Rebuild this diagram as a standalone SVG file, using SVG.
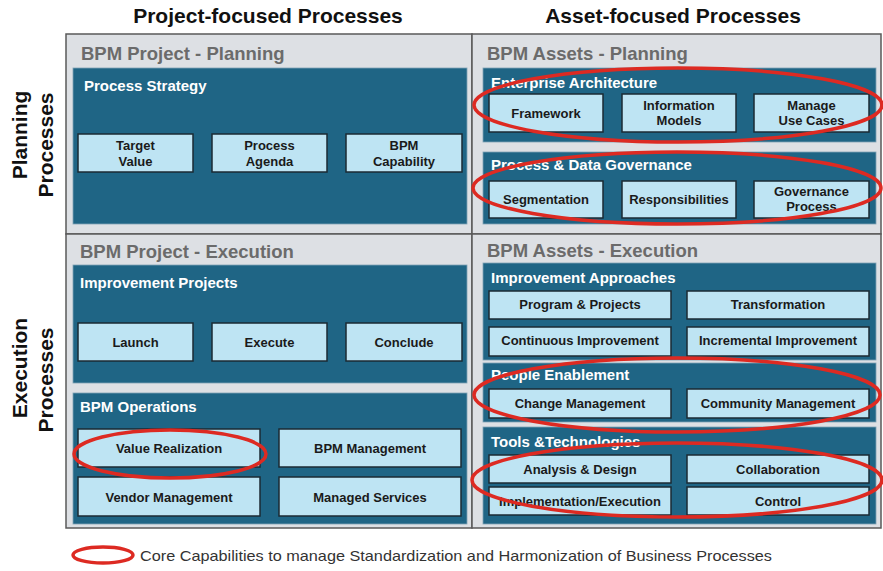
<svg xmlns="http://www.w3.org/2000/svg" width="883" height="571" viewBox="0 0 883 571">
<defs>
<style>
.quad{fill:#dde0e4;stroke:#595959;stroke-width:1.5}
.panel{fill:#1f6585;stroke:#7fa3b5;stroke-width:0.8}
.box{fill:#bee4f3;stroke:#1b2a33;stroke-width:1.5}
.hd{font-family:"Liberation Sans",Arial,sans-serif;font-weight:bold;font-size:21px;fill:#111;text-anchor:middle}
.qt{font-family:"Liberation Sans",Arial,sans-serif;font-weight:bold;font-size:18.5px;fill:#6b6b6b}
.pt{font-family:"Liberation Sans",Arial,sans-serif;font-weight:bold;font-size:15px;fill:#ffffff}
.bt{font-family:"Liberation Sans",Arial,sans-serif;font-weight:bold;font-size:13px;fill:#1a1a1a;text-anchor:middle}
.ring{fill:none;stroke:#dd2a22;stroke-width:3.5}
.lg{font-family:"Liberation Sans",Arial,sans-serif;font-size:15px;fill:#333}
</style>
</defs>
<rect width="883" height="571" fill="#ffffff"/>

<g id="headers">
<text class="hd" x="268" y="23">Project-focused  Processes</text>
<text class="hd" x="673" y="23">Asset-focused  Processes</text>
<text class="hd" transform="translate(27,135) rotate(-90)">Planning</text>
<text class="hd" transform="translate(53,145) rotate(-90)">Processes</text>
<text class="hd" transform="translate(27,368) rotate(-90)">Execution</text>
<text class="hd" transform="translate(53,380) rotate(-90)">Processes</text>
</g>

<g id="q-project-planning">
<rect class="quad" x="66" y="34" width="406" height="200"/>
<text class="qt" x="81" y="60">BPM Project - Planning</text>
<g id="process-strategy">
<rect class="panel" x="73" y="68" width="394" height="156"/>
<text class="pt" x="84" y="91">Process Strategy</text>
<g id="target-value"><rect class="box" x="78" y="134" width="115" height="38"/><text class="bt" x="135.5" y="150">Target</text><text class="bt" x="135.5" y="166">Value</text></g>
<g id="process-agenda"><rect class="box" x="212" y="134" width="115" height="38"/><text class="bt" x="269.5" y="150">Process</text><text class="bt" x="269.5" y="166">Agenda</text></g>
<g id="bpm-capability"><rect class="box" x="346" y="134" width="116" height="38"/><text class="bt" x="404" y="150">BPM</text><text class="bt" x="404" y="166">Capability</text></g>
</g>
</g>

<g id="q-assets-planning">
<rect class="quad" x="472" y="34" width="409" height="200"/>
<text class="qt" x="487" y="60">BPM Assets - Planning</text>
<g id="enterprise-architecture">
<rect class="panel" x="483" y="68" width="393" height="74"/>
<text class="pt" x="491" y="88">Enterprise Architecture</text>
<g id="framework"><rect class="box" x="489" y="94" width="114" height="38"/><text class="bt" x="546" y="118">Framework</text></g>
<g id="information-models"><rect class="box" x="622" y="94" width="114" height="38"/><text class="bt" x="679" y="110">Information</text><text class="bt" x="679" y="125">Models</text></g>
<g id="manage-use-cases"><rect class="box" x="754" y="94" width="115" height="38"/><text class="bt" x="811.5" y="110">Manage</text><text class="bt" x="811.5" y="125">Use Cases</text></g>
</g>
<g id="process-data-governance">
<rect class="panel" x="483" y="152" width="393" height="72"/>
<text class="pt" x="491" y="170">Process &amp; Data Governance</text>
<g id="segmentation"><rect class="box" x="489" y="181" width="114" height="37"/><text class="bt" x="546" y="204">Segmentation</text></g>
<g id="responsibilities"><rect class="box" x="622" y="181" width="114" height="37"/><text class="bt" x="679" y="204">Responsibilities</text></g>
<g id="governance-process"><rect class="box" x="754" y="181" width="115" height="37"/><text class="bt" x="811.5" y="196">Governance</text><text class="bt" x="811.5" y="211">Process</text></g>
</g>
</g>

<g id="q-project-execution">
<rect class="quad" x="66" y="234" width="406" height="294"/>
<text class="qt" x="80" y="258">BPM Project - Execution</text>
<g id="improvement-projects">
<rect class="panel" x="73" y="265" width="394" height="118"/>
<text class="pt" x="80" y="288">Improvement Projects</text>
<g id="launch"><rect class="box" x="78" y="323" width="115" height="38"/><text class="bt" x="135.5" y="347">Launch</text></g>
<g id="execute"><rect class="box" x="212" y="323" width="115" height="38"/><text class="bt" x="269.5" y="347">Execute</text></g>
<g id="conclude"><rect class="box" x="346" y="323" width="116" height="38"/><text class="bt" x="404" y="347">Conclude</text></g>
</g>
<g id="bpm-operations">
<rect class="panel" x="73" y="393" width="394" height="131"/>
<text class="pt" x="80" y="412">BPM Operations</text>
<g id="value-realization"><rect class="box" x="78" y="429" width="182" height="38"/><text class="bt" x="169" y="453">Value Realization</text></g>
<g id="bpm-management"><rect class="box" x="279" y="429" width="182" height="38"/><text class="bt" x="370" y="453">BPM Management</text></g>
<g id="vendor-management"><rect class="box" x="78" y="477" width="182" height="39"/><text class="bt" x="169" y="502">Vendor Management</text></g>
<g id="managed-services"><rect class="box" x="279" y="477" width="182" height="39"/><text class="bt" x="370" y="502">Managed Services</text></g>
</g>
</g>

<g id="q-assets-execution">
<rect class="quad" x="472" y="234" width="409" height="294"/>
<text class="qt" x="487" y="257">BPM Assets - Execution</text>
<g id="improvement-approaches">
<rect class="panel" x="483" y="263" width="393" height="97"/>
<text class="pt" x="491" y="283">Improvement Approaches</text>
<g id="program-projects"><rect class="box" x="489" y="291" width="182" height="28"/><text class="bt" x="580" y="309">Program &amp; Projects</text></g>
<g id="transformation"><rect class="box" x="687" y="291" width="182" height="28"/><text class="bt" x="778" y="309">Transformation</text></g>
<g id="continuous-improvement"><rect class="box" x="489" y="327" width="182" height="29"/><text class="bt" x="580" y="345">Continuous Improvement</text></g>
<g id="incremental-improvement"><rect class="box" x="687" y="327" width="182" height="29"/><text class="bt" x="778" y="345">Incremental Improvement</text></g>
</g>
<g id="people-enablement">
<rect class="panel" x="483" y="363" width="393" height="59"/>
<text class="pt" x="491" y="380">People Enablement</text>
<g id="change-management"><rect class="box" x="489" y="389" width="182" height="29"/><text class="bt" x="580" y="408">Change Management</text></g>
<g id="community-management"><rect class="box" x="687" y="389" width="182" height="29"/><text class="bt" x="778" y="408">Community Management</text></g>
</g>
<g id="tools-technologies">
<rect class="panel" x="483" y="427" width="393" height="97"/>
<text class="pt" x="491" y="447">Tools &amp;Technologies</text>
<g id="analysis-design"><rect class="box" x="489" y="455" width="182" height="28"/><text class="bt" x="580" y="474">Analysis &amp; Design</text></g>
<g id="collaboration"><rect class="box" x="687" y="455" width="182" height="28"/><text class="bt" x="778" y="474">Collaboration</text></g>
<g id="implementation-execution"><rect class="box" x="489" y="487" width="182" height="28"/><text class="bt" x="580" y="506">Implementation/Execution</text></g>
<g id="control"><rect class="box" x="687" y="487" width="182" height="28"/><text class="bt" x="778" y="506">Control</text></g>
</g>
</g>

<g id="connectors">
<ellipse class="ring" cx="678" cy="105" rx="204" ry="37"/>
<ellipse class="ring" cx="677" cy="188" rx="204" ry="36"/>
<ellipse class="ring" cx="677" cy="395" rx="203" ry="37"/>
<ellipse class="ring" cx="677" cy="480" rx="205" ry="37"/>
<ellipse class="ring" cx="170" cy="454" rx="96" ry="24"/>
</g>

<g id="legend">
<ellipse class="ring" cx="103" cy="555" rx="30" ry="8"/>
<text class="lg" x="140" y="561" textLength="632" lengthAdjust="spacingAndGlyphs">Core Capabilities to manage Standardization and Harmonization of Business Processes</text>
</g>
</svg>
